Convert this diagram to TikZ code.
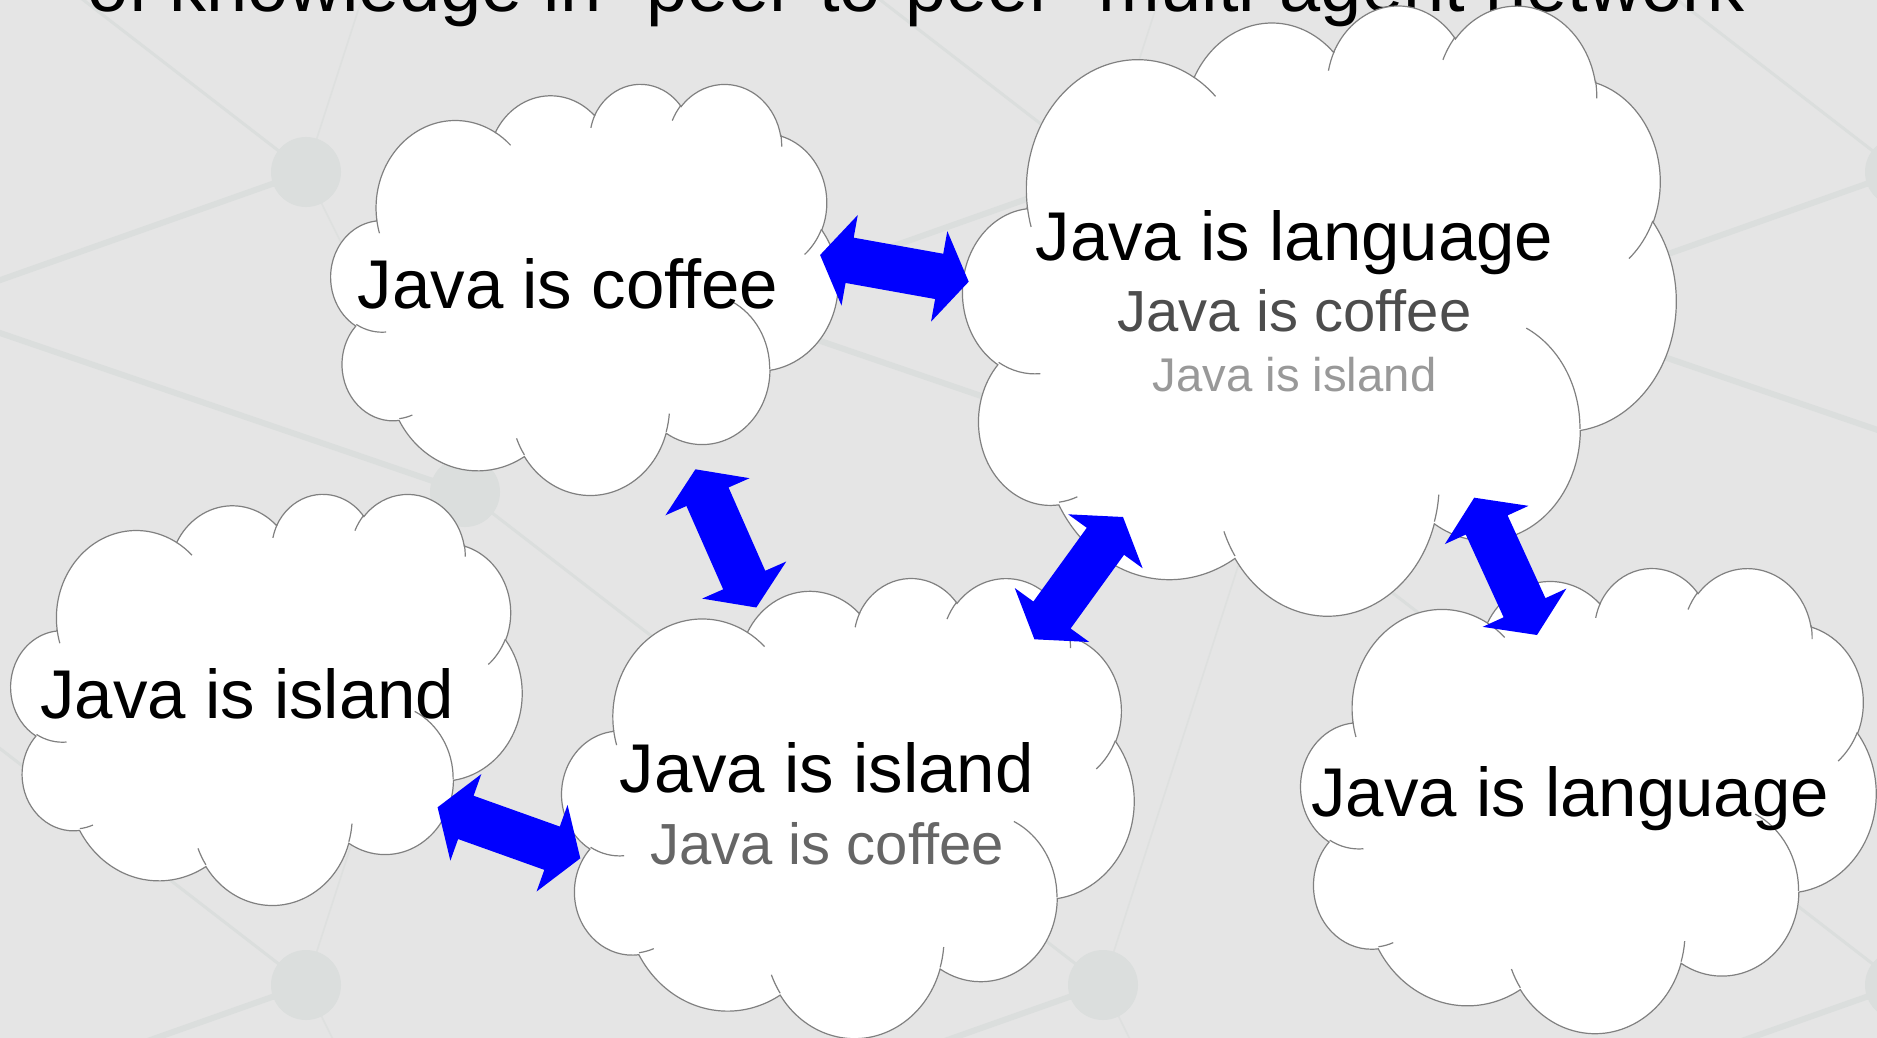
\documentclass[tikz,border=0pt]{standalone}
\usepackage{fontspec}
\setmainfont{Liberation Sans}
\usetikzlibrary{calc}

\definecolor{slidebg}{HTML}{E5E5E5}
\definecolor{netline}{HTML}{DBDEDD}
\definecolor{netlight}{HTML}{DEE0DF}
\definecolor{cloudrim}{HTML}{808080}
\definecolor{arrowblue}{HTML}{0000FF}
\definecolor{textmid}{HTML}{4D4D4D}
\definecolor{textsoft}{HTML}{666666}
\definecolor{textpale}{HTML}{999999}

% One elliptical arc of the cloud outline. Start and sweep are visual angles
% (DrawingML arcTo convention); they are converted to parametric angles.
\newcommand\mkarc[5]{%
  \pgfmathsetmacro\arcS{atan2((#2)*sin(#4),(#3)*cos(#4))}%
  \pgfmathsetmacro\arcE{atan2((#2)*sin((#4)+(#5)),(#3)*cos((#4)+(#5)))}%
  \pgfmathsetmacro\arcE{\arcE<\arcS ? \arcE+360 : \arcE}%
  \xdef#1{arc[start angle=\arcS, end angle=\arcE, x radius=#2, y radius=#3]}}

% cloud outline, path space 43.2 x 43.2
\mkarc\oaA{6.753}{9.190}{-190.487483}{123.780533}
\mkarc\oaB{5.333}{7.267}{-144.102383}{89.945233}
\mkarc\oaC{4.365}{5.945}{-145.807917}{99.723017}
\mkarc\oaD{4.857}{6.595}{-130.986067}{117.241733}
\mkarc\oaE{5.333}{7.273}{-78.708883}{109.026917}
\mkarc\oaF{6.775}{9.220}{-46.26725}{130.269}
\mkarc\oaG{5.785}{7.867}{0.625017}{114.033333}
\mkarc\oaH{6.752}{9.215}{22.4516}{115.17255}
\mkarc\oaI{7.720}{10.543}{66.242633}{75.711017}
\mkarc\oaJ{4.360}{5.918}{-274.942083}{146.735567}
\mkarc\oaK{4.345}{5.945}{-246.8285}{152.51885}
% short inner strokes where the puffs overlap
\mkarc\iaA{4.345}{5.945}{86.742}{26.4295}
\mkarc\iaB{4.360}{5.918}{73.610467}{11.447467}
\mkarc\iaC{6.752}{9.215}{137.62415}{14.0811}
\mkarc\iaD{6.752}{9.215}{6.453267}{15.99835}
\mkarc\iaE{5.785}{7.867}{-70.29235}{70.917367}
\mkarc\iaF{5.333}{7.273}{30.318033}{27.7515}
\mkarc\iaG{4.857}{6.595}{-13.744333}{14.8589}
\mkarc\iaH{4.857}{6.595}{-149.18145}{18.195367}
\mkarc\iaI{4.365}{5.945}{-163.49427}{17.68635}
\mkarc\iaJ{6.753}{9.190}{-66.70695}{12.31935}
\mkarc\iaK{6.753}{9.190}{157.65435}{11.858167}

\def\cloudouter{(3.900,14.370) \oaA \oaB \oaC \oaD \oaE \oaF \oaG \oaH \oaI \oaJ \oaK -- cycle}
\def\cloudinner{(4.693,26.177) \iaA (6.928,34.899) \iaB (16.478,39.090) \iaC
  (28.827,34.751) \iaD (34.129,22.954) \iaE (41.798,15.354) \iaF
  (38.324,5.426) \iaG (29.078,3.952) \iaH (22.141,4.720) \iaI
  (14.000,5.192) \iaJ (4.127,15.789) \iaK}

% #1 name, #2 left, #3 top, #4 width, #5 height
\newcommand\cloudat[5]{%
  \begin{scope}[shift={(#2,#3)}, xscale={#4/43.2}, yscale={#5/43.2}]
    \path[cloudbody] \cloudouter;
    \draw[cloudedge] \cloudinner;
    \coordinate (#1) at (21.6,21.6);
  \end{scope}}

% block double arrow between two named tips
\newcommand\dblarrow[2]{%
  \fill[arrowblue] (#1)
   -- ($(#1)!30pt!(#2)!46pt!90:(#2)$)
   -- ($(#1)!30pt!(#2)!23pt!90:(#2)$)
   -- ($(#2)!30pt!(#1)!23pt!-90:(#1)$)
   -- ($(#2)!30pt!(#1)!46pt!-90:(#1)$)
   -- (#2)
   -- ($(#2)!30pt!(#1)!46pt!90:(#1)$)
   -- ($(#2)!30pt!(#1)!23pt!90:(#1)$)
   -- ($(#1)!30pt!(#2)!23pt!-90:(#2)$)
   -- ($(#1)!30pt!(#2)!46pt!-90:(#2)$)
   -- cycle;}

\tikzset{
  cloudedge/.style={draw=cloudrim, line width=1.2pt},
  cloudbody/.style={fill=white, cloudedge},
  netthick/.style={draw=netline, line width=6pt},
  netmid/.style={draw=netline, line width=3pt},
  netthin/.style={draw=netlight, line width=1.6pt},
  label/.style={anchor=base, inner sep=0pt},
  big/.style={font=\fontsize{69}{80}\selectfont},
  mid/.style={font=\fontsize{58}{66}\selectfont},
  small/.style={font=\fontsize{47.3}{54}\selectfont},
}

\begin{document}
\begin{tikzpicture}[x=1pt, y=-1pt]
\useasboundingbox (0,0) rectangle (1877,1038);
\fill[slidebg] (0,0) rectangle (1877,1038);

% faint network pattern of the slide background
\begin{scope}
  \clip (0,0) rectangle (1877,1038);
  \foreach \i in {-1,...,3}{\foreach \j in {-1,...,2}{
    \pgfmathsetmacro\bgPx{306+797*\i}\pgfmathsetmacro\bgPy{172+813*\j}
    \pgfmathsetmacro\bgQx{465+797*\i}\pgfmathsetmacro\bgQy{492+813*\j}
    \pgfmathsetmacro\bgRx{-76+797*\i}\pgfmathsetmacro\bgRy{307+813*\j}
    \draw[netthick] (\bgPx,\bgPy) -- (\bgRx,\bgRy) -- (\bgQx,\bgQy);
    \draw[netthin] (\bgPx,\bgPy) -- (\bgQx,\bgQy);
    \draw[netthin] (\bgPx,\bgPy) -- (\bgQx,\bgQy-813);
    \draw[netmid] (\bgPx,\bgPy) -- (\bgQx-797,\bgQy-813);
  }}
  \foreach \i in {-1,...,3}{\foreach \j in {-1,...,2}{
    \fill[netline] ({306+797*\i},{172+813*\j}) circle[radius=35];
    \fill[netline] ({465+797*\i},{492+813*\j}) circle[radius=35];
    \fill[netline] ({-76+797*\i},{307+813*\j}) circle[radius=35];
  }}
\end{scope}

% heading (runs off the top edge)
\node[label, font=\fontsize{74}{80}\selectfont] (title) at (916,12)
  {of knowledge in “peer-to-peer” multi-agent network};

% agents
\cloudat{cB}{963}{4}{713}{610}
\cloudat{cA}{331}{83}{507}{411}
\cloudat{cC}{11}{493}{511}{411}
\cloudat{cD}{562}{577}{572}{460}
\cloudat{cE}{1301}{567}{575}{465}

\node[label, big] (tA) at (568,308.3) {Java is coffee};
\node[label, big] (tB1) at (1294.5,260) {Java is language};
\node[label, mid, text=textmid] (tB2) at (1294.5,331.7) {Java is coffee};
\node[label, small, text=textpale] (tB3) at (1294.5,391.7) {Java is island};
\node[label, big] (tC) at (247.3,718.3) {Java is island};
\node[label, big] (tD1) at (826.7,792.7) {Java is island};
\node[label, mid, text=textsoft] (tD2) at (827,864.3) {Java is coffee};
\node[label, big] (tE) at (1570.2,816.7) {Java is language};

% exchange links
\coordinate (ab1) at (820.1,255);   \coordinate (ab2) at (968.7,281.7);
\coordinate (ad1) at (695.4,469.3); \coordinate (ad2) at (756.3,607.5);
\coordinate (bd1) at (1123.0,517);  \coordinate (bd2) at (1034.4,639.3);
\coordinate (be1) at (1474.2,497.7);\coordinate (be2) at (1537,635);
\coordinate (cd1) at (437.6,807.3); \coordinate (cd2) at (580.3,858.3);
\dblarrow{ab1}{ab2}
\dblarrow{ad1}{ad2}
\dblarrow{bd1}{bd2}
\dblarrow{be1}{be2}
\dblarrow{cd1}{cd2}
\end{tikzpicture}
\end{document}
